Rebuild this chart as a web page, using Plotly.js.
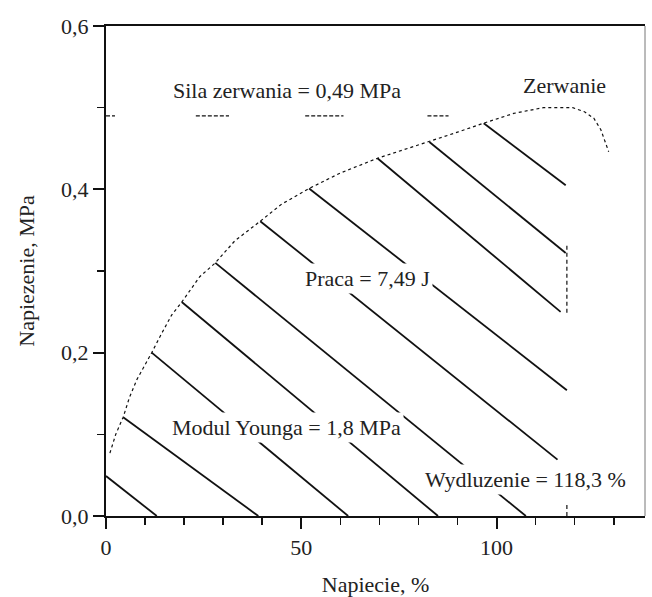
<!DOCTYPE html>
<html>
<head>
<meta charset="utf-8">
<script src="https://cdn.plot.ly/plotly-3.0.1.min.js"></script>
<style>html,body{margin:0;padding:0;background:#fff;}#chart{width:652px;height:597px;}</style>
</head>
<body>
<div id="chart"></div>
<script>
// Stress-strain curve (dotted)
const curveX = [1, 2.5, 4.4, 6, 7.9, 10, 11.7, 14.3, 16.8, 19.4, 24, 28, 33, 39.5, 45, 52, 60, 69.5, 76, 82.8, 90, 96.7, 104.4, 108.7, 112, 116.4, 119.5, 122.5, 124.9, 126.7, 128.7];
const curveY = [0.077, 0.1, 0.121, 0.145, 0.167, 0.185, 0.2, 0.224, 0.246, 0.262, 0.293, 0.31, 0.337, 0.361, 0.382, 0.401, 0.42, 0.438, 0.448, 0.458, 0.47, 0.481, 0.493, 0.497, 0.5, 0.5, 0.5, 0.495, 0.487, 0.473, 0.446];

// Hatch lines (work area) start and end points
const hatchX0 = [0, 4.4, 11.7, 19.4, 28, 39.5, 52, 69.5, 82.8, 96.7];
const hatchY0 = [0.049, 0.121, 0.2, 0.262, 0.31, 0.361, 0.401, 0.438, 0.458, 0.481];
const hatchX1 = [13, 39, 62, 85, 107.5, 115.6, 118, 116.4, 117.7, 117.7];
const hatchY1 = [0, 0, 0, 0, 0, 0.069, 0.154, 0.25, 0.322, 0.405];

// Breaking stress dashed line (y = 0.49) visible pieces
const breakStartX = [0, 23, 51, 82.3];
const breakEndX = [2.3, 31.5, 60.8, 87.7];
const breakY = 0.49;

// Elongation dashed vertical line (x = 118) visible pieces
const elongX = 118;
const elongStartY = [0, 0.249];
const elongEndY = [0.016, 0.334];

// Tick values
const xTicks = [0, 50, 100];
const yTicks = [0, 0.2, 0.4, 0.6];

// Text labels
const labels = [
  {text: 'Sila zerwania = 0,49 MPa', x: 46.4, y: 0.5216, mask: false},
  {text: 'Zerwanie', x: 117.4, y: 0.5277, mask: false},
  {text: 'Praca = 7,49 J', x: 66.9, y: 0.2914, mask: true},
  {text: 'Modul Younga = 1,8 MPa', x: 46.2, y: 0.1078, mask: true},
  {text: 'Wydluzenie = 118,3 %', x: 107.4, y: 0.0453, mask: true}
];

function segs(x0, y0, x1, y1) {
  const xs = [], ys = [];
  for (let i = 0; i < x0.length; i++) {
    xs.push(x0[i], x1[i], null);
    ys.push(y0[i], y1[i], null);
  }
  return {xs, ys};
}

const hatch = segs(hatchX0, hatchY0, hatchX1, hatchY1);
const brk = segs(breakStartX, breakStartX.map(() => breakY), breakEndX, breakEndX.map(() => breakY));
const elo = segs(elongStartY.map(() => elongX), elongStartY, elongEndY.map(() => elongX), elongEndY);

const font = 'Liberation Serif, Times New Roman, serif';

const traces = [
  {x: hatch.xs, y: hatch.ys, mode: 'lines', line: {color: '#111', width: 1.8}, hoverinfo: 'skip', showlegend: false},
  {x: curveX, y: curveY, mode: 'lines', line: {color: '#111', width: 1.2, dash: '3px,3px'}, hoverinfo: 'skip', showlegend: false},
  {x: brk.xs, y: brk.ys, mode: 'lines', line: {color: '#111', width: 1.2, dash: '4px,2px'}, hoverinfo: 'skip', showlegend: false},
  {x: elo.xs, y: elo.ys, mode: 'lines', line: {color: '#111', width: 1.2, dash: '4px,3px'}, hoverinfo: 'skip', showlegend: false}
];

const annotations = labels.map(l => ({
  text: l.text, x: l.x, y: l.y, xref: 'x', yref: 'y', showarrow: false,
  xanchor: 'center', yanchor: 'middle',
  font: {family: font, size: 22, color: '#222'},
  bgcolor: l.mask ? '#ffffff' : 'rgba(0,0,0,0)', borderpad: 2
}));

const layout = {
  width: 652, height: 597,
  margin: {l: 106, r: 7, t: 26, b: 81},
  paper_bgcolor: '#fff', plot_bgcolor: '#fff',
  separators: ', ',
  showlegend: false,
  font: {family: font, size: 22, color: '#222'},
  xaxis: {
    range: [0, 138], tickvals: xTicks, ticktext: xTicks.map(String),
    showgrid: false, zeroline: false, showline: true, linecolor: '#111', linewidth: 2, mirror: true,
    ticks: 'outside', ticklen: 11, tickwidth: 2, tickcolor: '#111',
    minor: {dtick: 10, tick0: 0, ticks: 'outside', ticklen: 7, tickwidth: 1.5, tickcolor: '#111', showgrid: false},
    tickfont: {family: font, size: 22, color: '#222'},
    title: {text: 'Napiecie, %', font: {family: font, size: 22, color: '#222'}, standoff: 20},
    fixedrange: true
  },
  yaxis: {
    range: [0, 0.6], tickvals: yTicks, ticktext: yTicks.map(v => v.toFixed(1).replace('.', ',')),
    showgrid: false, zeroline: false, showline: true, linecolor: '#111', linewidth: 2,
    ticks: 'outside', ticklen: 11, tickwidth: 2, tickcolor: '#111',
    minor: {dtick: 0.1, tick0: 0, ticks: 'outside', ticklen: 7, tickwidth: 1.5, tickcolor: '#111', showgrid: false},
    tickfont: {family: font, size: 22, color: '#222'},
    title: {text: 'Napiezenie, MPa', font: {family: font, size: 22, color: '#222'}, standoff: 20},
    fixedrange: true
  },
  shapes: [
    {type: 'line', xref: 'paper', yref: 'paper', x0: 1, x1: 1, y0: 0, y1: 1, line: {color: '#777', width: 1}}
  ],
  annotations: annotations
};

Plotly.newPlot('chart', traces, layout, {displayModeBar: false, staticPlot: true});
</script>
</body>
</html>
